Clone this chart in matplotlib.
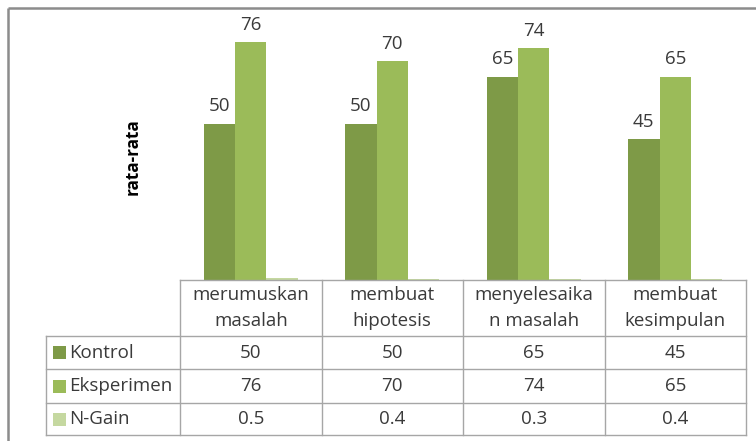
import matplotlib
matplotlib.use("Agg")
import matplotlib.pyplot as plt
import numpy as np

# data
categories = ["merumuskan\nmasalah", "membuat\nhipotesis", "menyelesaika\nn masalah", "membuat\nkesimpulan"]
series_names = ["Kontrol", "Eksperimen", "N-Gain"]
kontrol = [50, 50, 65, 45]
eksperimen = [76, 70, 74, 65]
ngain = [0.5, 0.4, 0.3, 0.4]
table_text = [["50", "50", "65", "45"],
              ["76", "70", "74", "65"],
              ["0.5", "0.4", "0.3", "0.4"]]

colors = ["#7E9A47", "#9BBB59", "#C5D8A0"]
text_col = "#3A3A3A"
grid_col = "#A6A6A6"
plt.rcParams["font.family"] = ["Open Sans", "DejaVu Sans"]

W, H = 756, 441
fig = plt.figure(figsize=(W / 100, H / 100), dpi=100)

def px_axes(x0, y0, x1, y1):
    return fig.add_axes([x0 / W, 1 - y1 / H, (x1 - x0) / W, (y1 - y0) / H])

# bar part
ax = px_axes(180, 10, 746, 280)
x = np.arange(len(categories))
w = 0.222
for i, vals in enumerate([kontrol, eksperimen, ngain]):
    bars = ax.bar(x + (i - 1) * w, vals, w, color=colors[i], linewidth=0)
    if i < 2:
        for b, v in zip(bars, vals):
            ax.annotate(str(v), (b.get_x() + b.get_width() / 2, v), xytext=(0, 6),
                        textcoords="offset points", ha="center", va="bottom",
                        fontsize=13.5, color=text_col)
ax.set_xlim(-0.5, 3.5)
ax.set_ylim(0, 86.3)
ax.axis("off")

# overlay in pixel coords for the data table and frame
ov = fig.add_axes([0, 0, 1, 1], facecolor="none")
ov.set_xlim(0, W)
ov.set_ylim(H, 0)
ov.axis("off")

ov.plot([8, 8], [8, H], color="#8C8C8C", lw=1.8, solid_capstyle="butt")
ov.plot([8, W], [8, 8], color="#8C8C8C", lw=1.8, solid_capstyle="butt")

ov.text(133, 157, "rata-rata", rotation=90, ha="center", va="center",
        fontsize=12.3, fontweight="bold", color="black")

col_edges = [180 + i * 141.5 for i in range(5)]
row_edges = [280, 336, 369, 403, 435]
lx = 46

# horizontal lines
ov.plot([col_edges[0], col_edges[-1]], [row_edges[0]] * 2, color=grid_col, lw=1)
for y in row_edges[1:]:
    ov.plot([lx, col_edges[-1]], [y, y], color=grid_col, lw=1)
# vertical lines
ov.plot([lx, lx], [row_edges[1], row_edges[-1]], color=grid_col, lw=1)
for xe in col_edges:
    ov.plot([xe, xe], [row_edges[0], row_edges[-1]], color=grid_col, lw=1)

# header
for j, cat in enumerate(categories):
    cx = (col_edges[j] + col_edges[j + 1]) / 2
    ov.text(cx, (row_edges[0] + row_edges[1]) / 2, cat, ha="center", va="center",
            fontsize=13.5, color=text_col, linespacing=1.5)

# rows
for r, name in enumerate(series_names):
    cy = (row_edges[r + 1] + row_edges[r + 2]) / 2
    ov.add_patch(plt.Rectangle((53, cy - 6.5), 13, 13, color=colors[r], lw=0))
    ov.text(69, cy, name, ha="left", va="center", fontsize=13.5, color=text_col)
    for j in range(len(categories)):
        cx = (col_edges[j] + col_edges[j + 1]) / 2
        ov.text(cx, cy, table_text[r][j], ha="center", va="center",
                fontsize=13.5, color=text_col)

fig.savefig("out.png", dpi=100)
